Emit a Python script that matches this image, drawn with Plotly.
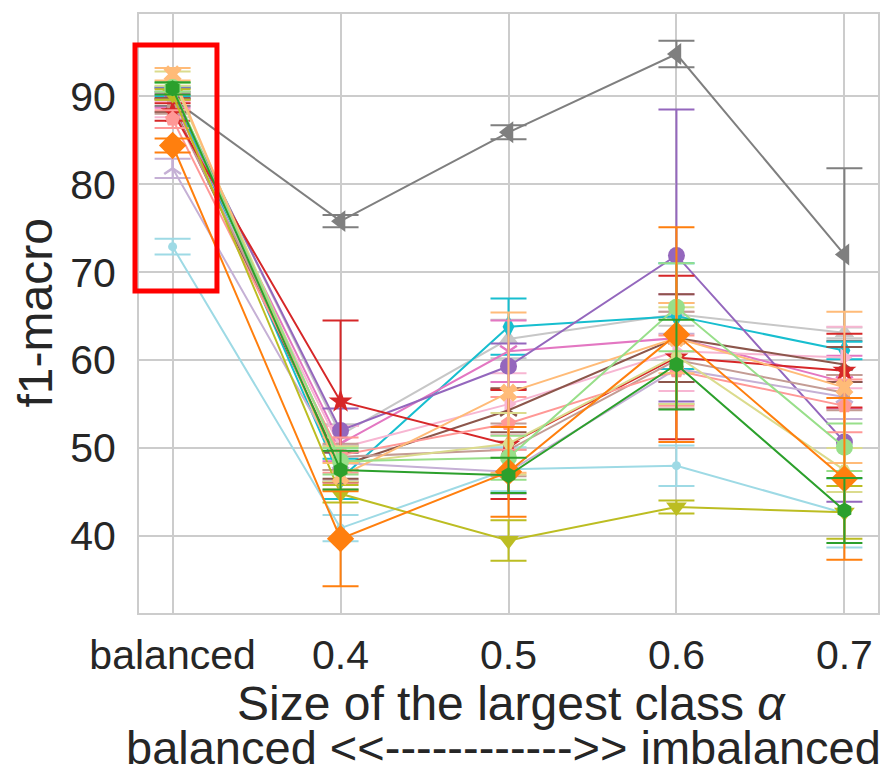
import plotly.graph_objects as go

CATEGORIES = ["balanced", "0.4", "0.5", "0.6", "0.7"]

# series values (f1-macro) and error bar half-lengths
gray_vals = [89.7, 75.8, 85.9, 94.8, 72.0]
gray_err = [0.8, 0.7, 0.8, 1.5, 9.8]
lightgray_vals = [90.6, 51.5, 62.4, 65.2, 63.1]
lightgray_err = [0.5, 1.2, 2.2, 1.3, 0.6]
cyan_vals = [90.5, 46.5, 63.8, 65.0, 61.1]
cyan_err = [0.5, 2.3, 3.2, 6.0, 1.0]
lightcyan_vals = [72.9, 40.9, 47.6, 48.0, 42.6]
lightcyan_err = [0.9, 1.5, 2.5, 2.3, 3.9]
pink_vals = [89.5, 50.5, 61.0, 62.5, 57.5]
pink_err = [0.8, 2.0, 3.5, 5.0, 3.0]
lightpink_vals = [88.5, 50.0, 55.0, 61.0, 60.3]
lightpink_err = [0.9, 2.5, 3.5, 4.5, 3.5]
purple_vals = [90.3, 52.0, 59.3, 71.9, 50.7]
purple_err = [0.6, 2.5, 2.6, 16.6, 6.8]
lightpurple_vals = [81.8, 48.3, 47.3, 59.0, 55.8]
lightpurple_err = [1.1, 2.0, 2.5, 4.0, 2.5]
brown_vals = [89.0, 48.0, 54.3, 62.5, 59.5]
brown_err = [0.8, 1.5, 2.5, 5.0, 2.0]
lightbrown_vals = [88.8, 49.0, 49.8, 60.0, 56.3]
lightbrown_err = [0.8, 1.5, 3.0, 5.5, 2.0]
red_vals = [88.2, 55.3, 50.4, 60.3, 58.8]
red_err = [1.0, 9.2, 6.2, 9.3, 4.2]
salmon_vals = [87.4, 49.2, 52.8, 58.8, 54.8]
salmon_err = [1.0, 2.0, 3.0, 4.0, 3.0]
olive_vals = [90.2, 44.8, 39.5, 43.3, 42.7]
olive_err = [0.6, 1.0, 2.3, 0.75, 3.0]
lightolive_vals = [92.0, 48.2, 50.5, 60.5, 47.5]
lightolive_err = [0.8, 2.0, 3.5, 5.5, 2.5]
lightorange_vals = [92.5, 46.8, 56.3, 62.5, 56.9]
lightorange_err = [0.7, 1.5, 9.1, 4.0, 8.6]
lightgreen_vals = [91.0, 48.5, 48.9, 66.0, 50.1]
lightgreen_err = [0.5, 1.5, 2.5, 5.0, 2.7]
orange_vals = [84.4, 39.7, 47.3, 62.9, 46.5]
orange_err = [0.8, 5.4, 5.1, 12.2, 9.2]
green_vals = [90.9, 47.5, 46.9, 59.5, 42.9]
green_err = [0.7, 2.2, 2.0, 5.1, 3.7]

SERIES = [
    ("gray", gray_vals, gray_err, "#7f7f7f", "triangle-left", 19),
    ("lightgray", lightgray_vals, lightgray_err, "#c7c7c7", "triangle-up", 17),
    ("cyan", cyan_vals, cyan_err, "#17becf", "diamond-tall", 17),
    ("lightcyan", lightcyan_vals, lightcyan_err, "#9edae5", "circle", 9),
    ("pink", pink_vals, pink_err, "#e377c2", "y-down", 14),
    ("lightpink", lightpink_vals, lightpink_err, "#f7b6d2", "triangle-right", 16),
    ("purple", purple_vals, purple_err, "#9467bd", "circle", 17),
    ("lightpurple", lightpurple_vals, lightpurple_err, "#c5b0d5", "y-up", 14),
    ("brown", brown_vals, brown_err, "#8c564b", "y-up", 14),
    ("lightbrown", lightbrown_vals, lightbrown_err, "#c49c94", "square", 11),
    ("red", red_vals, red_err, "#d62728", "star", 18),
    ("salmon", salmon_vals, salmon_err, "#ff9896", "pentagon", 16),
    ("olive", olive_vals, olive_err, "#bcbd22", "triangle-down", 18),
    ("lightolive", lightolive_vals, lightolive_err, "#dbdb8d", "hexagon2", 12),
    ("lightorange", lightorange_vals, lightorange_err, "#ffbb78", "x", 16),
    ("lightgreen", lightgreen_vals, lightgreen_err, "#98df8a", "circle", 17),
    ("orange", orange_vals, orange_err, "#ff7f0e", "diamond", 21),
    ("green", green_vals, green_err, "#2ca02c", "hexagon", 16),
]

FONT = "Liberation Sans, Arial, sans-serif"
TEXT_COLOR = "#262626"

fig = go.Figure()
for name, vals, errs, color, symbol, size in SERIES:
    open_marker = symbol.startswith("y-")
    fig.add_trace(go.Scatter(
        x=CATEGORIES, y=vals, name=name, mode="lines+markers",
        line=dict(color=color, width=2),
        marker=dict(symbol=symbol, size=size, color=color,
                    line=dict(color=color, width=2.5 if open_marker else 0)),
        error_y=dict(type="data", array=errs, visible=True, color=color,
                     thickness=2, width=18),
        showlegend=False,
    ))

# the page body adds an 8px margin, so the figure is 8px smaller
fig.update_layout(
    width=888, height=771,
    margin=dict(l=131, r=18, t=4, b=166),
    paper_bgcolor="white", plot_bgcolor="white",
    font=dict(family=FONT, color=TEXT_COLOR),
)
fig.update_xaxes(
    type="category", range=[-0.2, 4.2],
    showgrid=True, gridcolor="#cccccc", gridwidth=2,
    showline=True, mirror=True, linecolor="#cccccc", linewidth=2,
    ticks="outside", ticklen=5, tickcolor="rgba(0,0,0,0)",
    tickfont=dict(size=41, family=FONT, color=TEXT_COLOR),
    zeroline=False,
)
fig.update_yaxes(
    range=[31.25, 99.35], tickvals=[40, 50, 60, 70, 80, 90],
    showgrid=True, gridcolor="#cccccc", gridwidth=2,
    showline=True, mirror=True, linecolor="#cccccc", linewidth=2,
    ticks="outside", ticklen=13, tickcolor="rgba(0,0,0,0)",
    tickfont=dict(size=41, family=FONT, color=TEXT_COLOR),
    zeroline=False,
)

# axis titles
fig.add_annotation(text="f1-macro", textangle=-90, xref="paper", yref="paper",
                   x=-0.1407, y=0.5, xanchor="center", yanchor="middle",
                   showarrow=False, font=dict(size=48, family=FONT, color=TEXT_COLOR))
fig.add_annotation(text="Size of the largest class <i>α</i>", xref="paper", yref="paper",
                   x=0.504, y=-0.151, xanchor="center", yanchor="middle",
                   showarrow=False, font=dict(size=48, family=FONT, color=TEXT_COLOR))
fig.add_annotation(text="balanced &lt;&lt;------------&gt;&gt; imbalanced", xref="paper", yref="paper",
                   x=0.493, y=-0.225, xanchor="center", yanchor="middle",
                   showarrow=False, font=dict(size=47, family=FONT, color=TEXT_COLOR))

# highlight box around the balanced column
fig.add_shape(type="rect", xref="paper", yref="paper",
              x0=-0.0054, x1=0.1055, y0=0.5374, y1=0.9484,
              line=dict(color="#ff0000", width=5))

fig.write_html("out.html")
